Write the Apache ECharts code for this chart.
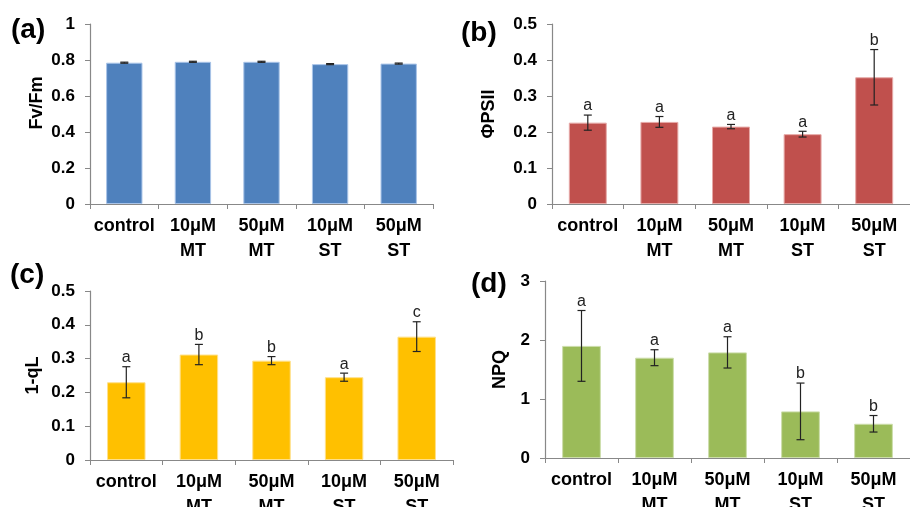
<!DOCTYPE html>
<html>
<head>
<meta charset="utf-8">
<script src="https://cdn.jsdelivr.net/npm/echarts@6/dist/echarts.min.js"></script>
<style>
  html, body { margin: 0; padding: 0; background: #fff; }
  #chart { width: 910px; height: 507px; }
</style>
</head>
<body>
<div id="chart"></div>
<script>
  // 类目
  var categories = ['control', '10μM\nMT', '50μM\nMT', '10μM\nST', '50μM\nST']

  // (a) Fv/Fm
  var fvfmValues = [0.785, 0.790, 0.790, 0.777, 0.780]
  var fvfmErrors = [0.003, 0.003, 0.003, 0.003, 0.003]
  var fvfmLetters = ['', '', '', '', '']

  // (b) ΦPSII
  var phiValues = [0.226, 0.228, 0.215, 0.194, 0.352]
  var phiErrors = [0.021, 0.015, 0.006, 0.008, 0.077]
  var phiLetters = ['a', 'a', 'a', 'a', 'b']

  // (c) 1-qL
  var qlValues = [0.230, 0.312, 0.294, 0.245, 0.365]
  var qlErrors = [0.046, 0.030, 0.012, 0.012, 0.044]
  var qlLetters = ['a', 'b', 'b', 'a', 'c']

  // (d) NPQ
  var npqValues = [1.90, 1.70, 1.79, 0.79, 0.58]
  var npqErrors = [0.60, 0.135, 0.265, 0.48, 0.14]
  var npqLetters = ['a', 'a', 'a', 'b', 'b']

  var FONT = 'Liberation Sans, Arial, sans-serif'

  var panels = [
    {tag: '(a)', name: 'Fv/Fm', max: 1, interval: 0.2, color: '#4F81BD', border: '#A9C4E8',
      values: fvfmValues, errors: fvfmErrors, letters: fvfmLetters,
      grid: {left: 90, right: 477, top: 24, bottom: 303}, nameGap: 44, namePad: [0, 0, 0, 22], tagPos: [11, 16]},
    {tag: '(b)', name: 'ΦPSII', max: 0.5, interval: 0.1, color: '#C0504D', border: '#E6A9A7',
      values: phiValues, errors: phiErrors, letters: phiLetters,
      grid: {left: 552, right: 0, top: 24, bottom: 303}, nameGap: 54, namePad: [0, 0, 0, 0], tagPos: [461, 19]},
    {tag: '(c)', name: '1-qL', max: 0.5, interval: 0.1, color: '#FFC000', border: '#FFE08A',
      values: qlValues, errors: qlErrors, letters: qlLetters,
      grid: {left: 90, right: 457, top: 291, bottom: 47}, nameGap: 48, namePad: [0, 0, 0, 0], tagPos: [10, 261]},
    {tag: '(d)', name: 'NPQ', max: 3, interval: 1, color: '#9BBB59', border: '#CCDDAA',
      values: npqValues, errors: npqErrors, letters: npqLetters,
      grid: {left: 545, right: 0, top: 281, bottom: 49}, nameGap: 36, namePad: [0, 0, 0, 0], tagPos: [471, 270]}
  ]

  var grids = [], xAxes = [], yAxes = [], series = [], graphics = []

  panels.forEach(function (p, i) {
    grids.push(Object.assign({outerBoundsMode: 'none', containLabel: false}, p.grid))
    xAxes.push({
      type: 'category',
      gridIndex: i,
      data: categories,
      axisLine: {lineStyle: {color: '#888', width: 1.2}},
      axisTick: {show: true, length: 5, lineStyle: {color: '#888'}},
      axisLabel: {color: '#000', fontFamily: FONT, fontWeight: 'bold', fontSize: 18, lineHeight: 25, margin: 10, interval: 0}
    })
    yAxes.push({
      type: 'value',
      gridIndex: i,
      min: 0,
      max: p.max,
      interval: p.interval,
      name: p.name,
      nameLocation: 'middle',
      nameGap: p.nameGap,
      nameTextStyle: {color: '#000', fontFamily: FONT, fontWeight: 'bold', fontSize: 18, padding: p.namePad},
      axisLine: {show: true, lineStyle: {color: '#888', width: 1.2}},
      axisTick: {show: true, length: 5, lineStyle: {color: '#888'}},
      axisLabel: {color: '#000', fontFamily: FONT, fontWeight: 'bold', fontSize: 17, margin: 15},
      splitLine: {show: false}
    })
    series.push({
      type: 'bar',
      xAxisIndex: i,
      yAxisIndex: i,
      data: p.values,
      barWidth: '53%',
      itemStyle: {color: p.color, borderColor: p.border, borderWidth: 1},
      silent: true
    })
    // 误差线 + 显著性字母
    series.push({
      type: 'custom',
      xAxisIndex: i,
      yAxisIndex: i,
      data: p.values.map(function (v, k) { return [k, v, p.errors[k]] }),
      z: 10,
      silent: true,
      renderItem: function (params, api) {
        var idx = api.value(0), v = api.value(1), e = api.value(2)
        var top = api.coord([idx, v + e]), bot = api.coord([idx, v - e])
        var x = top[0], hw = 4
        var st = {stroke: '#222', lineWidth: 1.2}
        var children = [
          {type: 'line', shape: {x1: x, y1: top[1], x2: x, y2: bot[1]}, style: st},
          {type: 'line', shape: {x1: x - hw, y1: top[1], x2: x + hw, y2: top[1]}, style: st},
          {type: 'line', shape: {x1: x - hw, y1: bot[1], x2: x + hw, y2: bot[1]}, style: st}
        ]
        var letter = p.letters[params.dataIndex]
        if (letter) {
          children.push({
            type: 'text',
            style: {x: x, y: top[1] - 1, text: letter, fill: '#222', font: '16px ' + FONT, align: 'center', verticalAlign: 'bottom'}
          })
        }
        return {type: 'group', children: children}
      }
    })
    graphics.push({
      type: 'text',
      left: p.tagPos[0],
      top: p.tagPos[1],
      style: {text: p.tag, fill: '#000', font: 'bold 28px ' + FONT}
    })
  })

  var chart = echarts.init(document.getElementById('chart'))
  chart.setOption({
    animation: false,
    backgroundColor: '#fff',
    grid: grids,
    xAxis: xAxes,
    yAxis: yAxes,
    series: series,
    graphic: graphics
  })
</script>
</body>
</html>
